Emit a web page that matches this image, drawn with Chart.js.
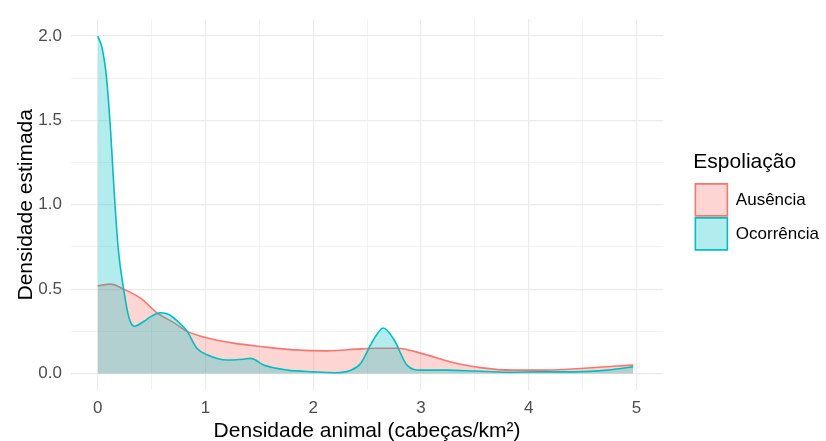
<!DOCTYPE html>
<html>
<head>
<meta charset="utf-8">
<script src="https://cdn.jsdelivr.net/npm/chart.js@4"></script>
<style>
  html, body { margin: 0; padding: 0; background: #fff; }
  #wrap { width: 826px; height: 441px; }
</style>
</head>
<body>
<div id="wrap"><canvas id="chartDens"></canvas></div>
<script>
  // dados
  const ausX = [0, 0.12, 0.24, 0.4, 0.55, 0.71, 0.83, 1.02, 1.26, 1.51, 1.82, 2.13, 2.44, 2.6, 2.78, 3.03, 3.27, 3.55, 3.86, 4.17, 4.48, 4.82, 4.97];
  const ausY = [0.52, 0.53, 0.50, 0.445, 0.36, 0.30, 0.25, 0.21, 0.18, 0.16, 0.14, 0.134, 0.146, 0.15, 0.15, 0.115, 0.07, 0.035, 0.02, 0.02, 0.03, 0.045, 0.05];

  const occX = [0, 0.04, 0.08, 0.12, 0.15, 0.19, 0.24, 0.29, 0.34, 0.43, 0.5, 0.58, 0.66, 0.74, 0.83, 0.92, 1.02, 1.2, 1.35, 1.42, 1.54, 1.76, 2.0, 2.2, 2.35, 2.44, 2.55, 2.65, 2.75, 2.87, 3.0, 3.24, 3.5, 3.8, 4.1, 4.42, 4.73, 4.97];
  const occY = [2.0, 1.93, 1.76, 1.43, 1.10, 0.74, 0.5, 0.33, 0.28, 0.31, 0.34, 0.36, 0.35, 0.31, 0.25, 0.15, 0.11, 0.08, 0.085, 0.09, 0.05, 0.02, 0.01, 0.005, 0.02, 0.06, 0.19, 0.27, 0.2, 0.05, 0.02, 0.02, 0.015, 0.008, 0.01, 0.01, 0.02, 0.04];

  const xTicks = [0, 0.5, 1, 1.5, 2, 2.5, 3, 3.5, 4, 4.5, 5];
  const yTicks = [0, 0.25, 0.5, 0.75, 1, 1.25, 1.5, 1.75, 2];

  const pts = (xs, ys) => xs.map((x, i) => ({ x: x, y: ys[i] }));
  const isMajor = (v, step) => Math.abs(v / step - Math.round(v / step)) < 1e-6;

  // afasta a legenda do painel (como no ggplot)
  const legendShift = {
    id: 'legendShift',
    afterLayout(chart) {
      if (chart.legend) {
        chart.legend.left += 30;
        chart.legend.right += 30;
        chart.legend.top -= 3;
        chart.legend.bottom -= 3;
      }
    }
  };

  const ctx = document.getElementById('chartDens');
  new Chart(ctx, {
    type: 'line',
    data: {
      datasets: [
        {
          label: 'Ausência',
          data: pts(ausX, ausY),
          borderColor: '#F8766D',
          backgroundColor: 'rgba(248,118,109,0.3)',
          borderWidth: 1.6,
          fill: 'origin',
          pointRadius: 0,
          cubicInterpolationMode: 'monotone',
          order: 2
        },
        {
          label: 'Ocorrência',
          data: pts(occX, occY),
          borderColor: '#00BFC4',
          backgroundColor: 'rgba(0,191,196,0.3)',
          borderWidth: 1.6,
          fill: 'origin',
          pointRadius: 0,
          cubicInterpolationMode: 'monotone',
          order: 1
        }
      ]
    },
    plugins: [legendShift],
    options: {
      responsive: true,
      maintainAspectRatio: false,
      animation: false,
      layout: { padding: { top: 17, right: 27, bottom: 0, left: 4 } },
      plugins: {
        tooltip: { enabled: false },
        legend: {
          position: 'right',
          fullSize: false,
          title: {
            display: true,
            text: 'Espoliação',
            color: '#000',
            position: 'start',
            font: { family: 'Liberation Sans', size: 21 },
            padding: { top: 0, bottom: 5 }
          },
          labels: {
            color: '#000',
            font: { family: 'Liberation Sans', size: 17 },
            boxWidth: 32,
            boxHeight: 32,
            padding: 2,
            sort: (a, b) => a.datasetIndex - b.datasetIndex
          }
        }
      },
      scales: {
        x: {
          type: 'linear',
          min: -0.25,
          max: 5.25,
          afterBuildTicks: (axis) => { axis.ticks = xTicks.map(v => ({ value: v })); },
          border: { display: false },
          grid: {
            drawTicks: false,
            color: '#EBEBEB',
            lineWidth: (c) => isMajor(c.tick.value, 1) ? 1.2 : 0.6
          },
          ticks: {
            color: '#4D4D4D',
            padding: 8,
            font: { family: 'Liberation Sans', size: 17 },
            autoSkip: false,
            maxRotation: 0,
            callback: (v) => isMajor(v, 1) ? String(v) : ''
          },
          title: {
            display: true,
            text: 'Densidade animal (cabeças/km²)',
            color: '#000',
            font: { family: 'Liberation Sans', size: 21 },
            padding: { top: -8, bottom: -3 }
          }
        },
        y: {
          min: -0.1,
          max: 2.1,
          afterBuildTicks: (axis) => { axis.ticks = yTicks.map(v => ({ value: v })); },
          border: { display: false },
          grid: {
            drawTicks: false,
            color: '#EBEBEB',
            lineWidth: (c) => isMajor(c.tick.value, 0.5) ? 1.2 : 0.6
          },
          ticks: {
            color: '#4D4D4D',
            padding: 9,
            font: { family: 'Liberation Sans', size: 17 },
            autoSkip: false,
            callback: (v) => isMajor(v, 0.5) ? v.toFixed(1) : ''
          },
          title: {
            display: true,
            text: 'Densidade estimada',
            color: '#000',
            font: { family: 'Liberation Sans', size: 21 },
            padding: { top: 10, bottom: -10 }
          }
        }
      }
    }
  });
</script>
</body>
</html>
